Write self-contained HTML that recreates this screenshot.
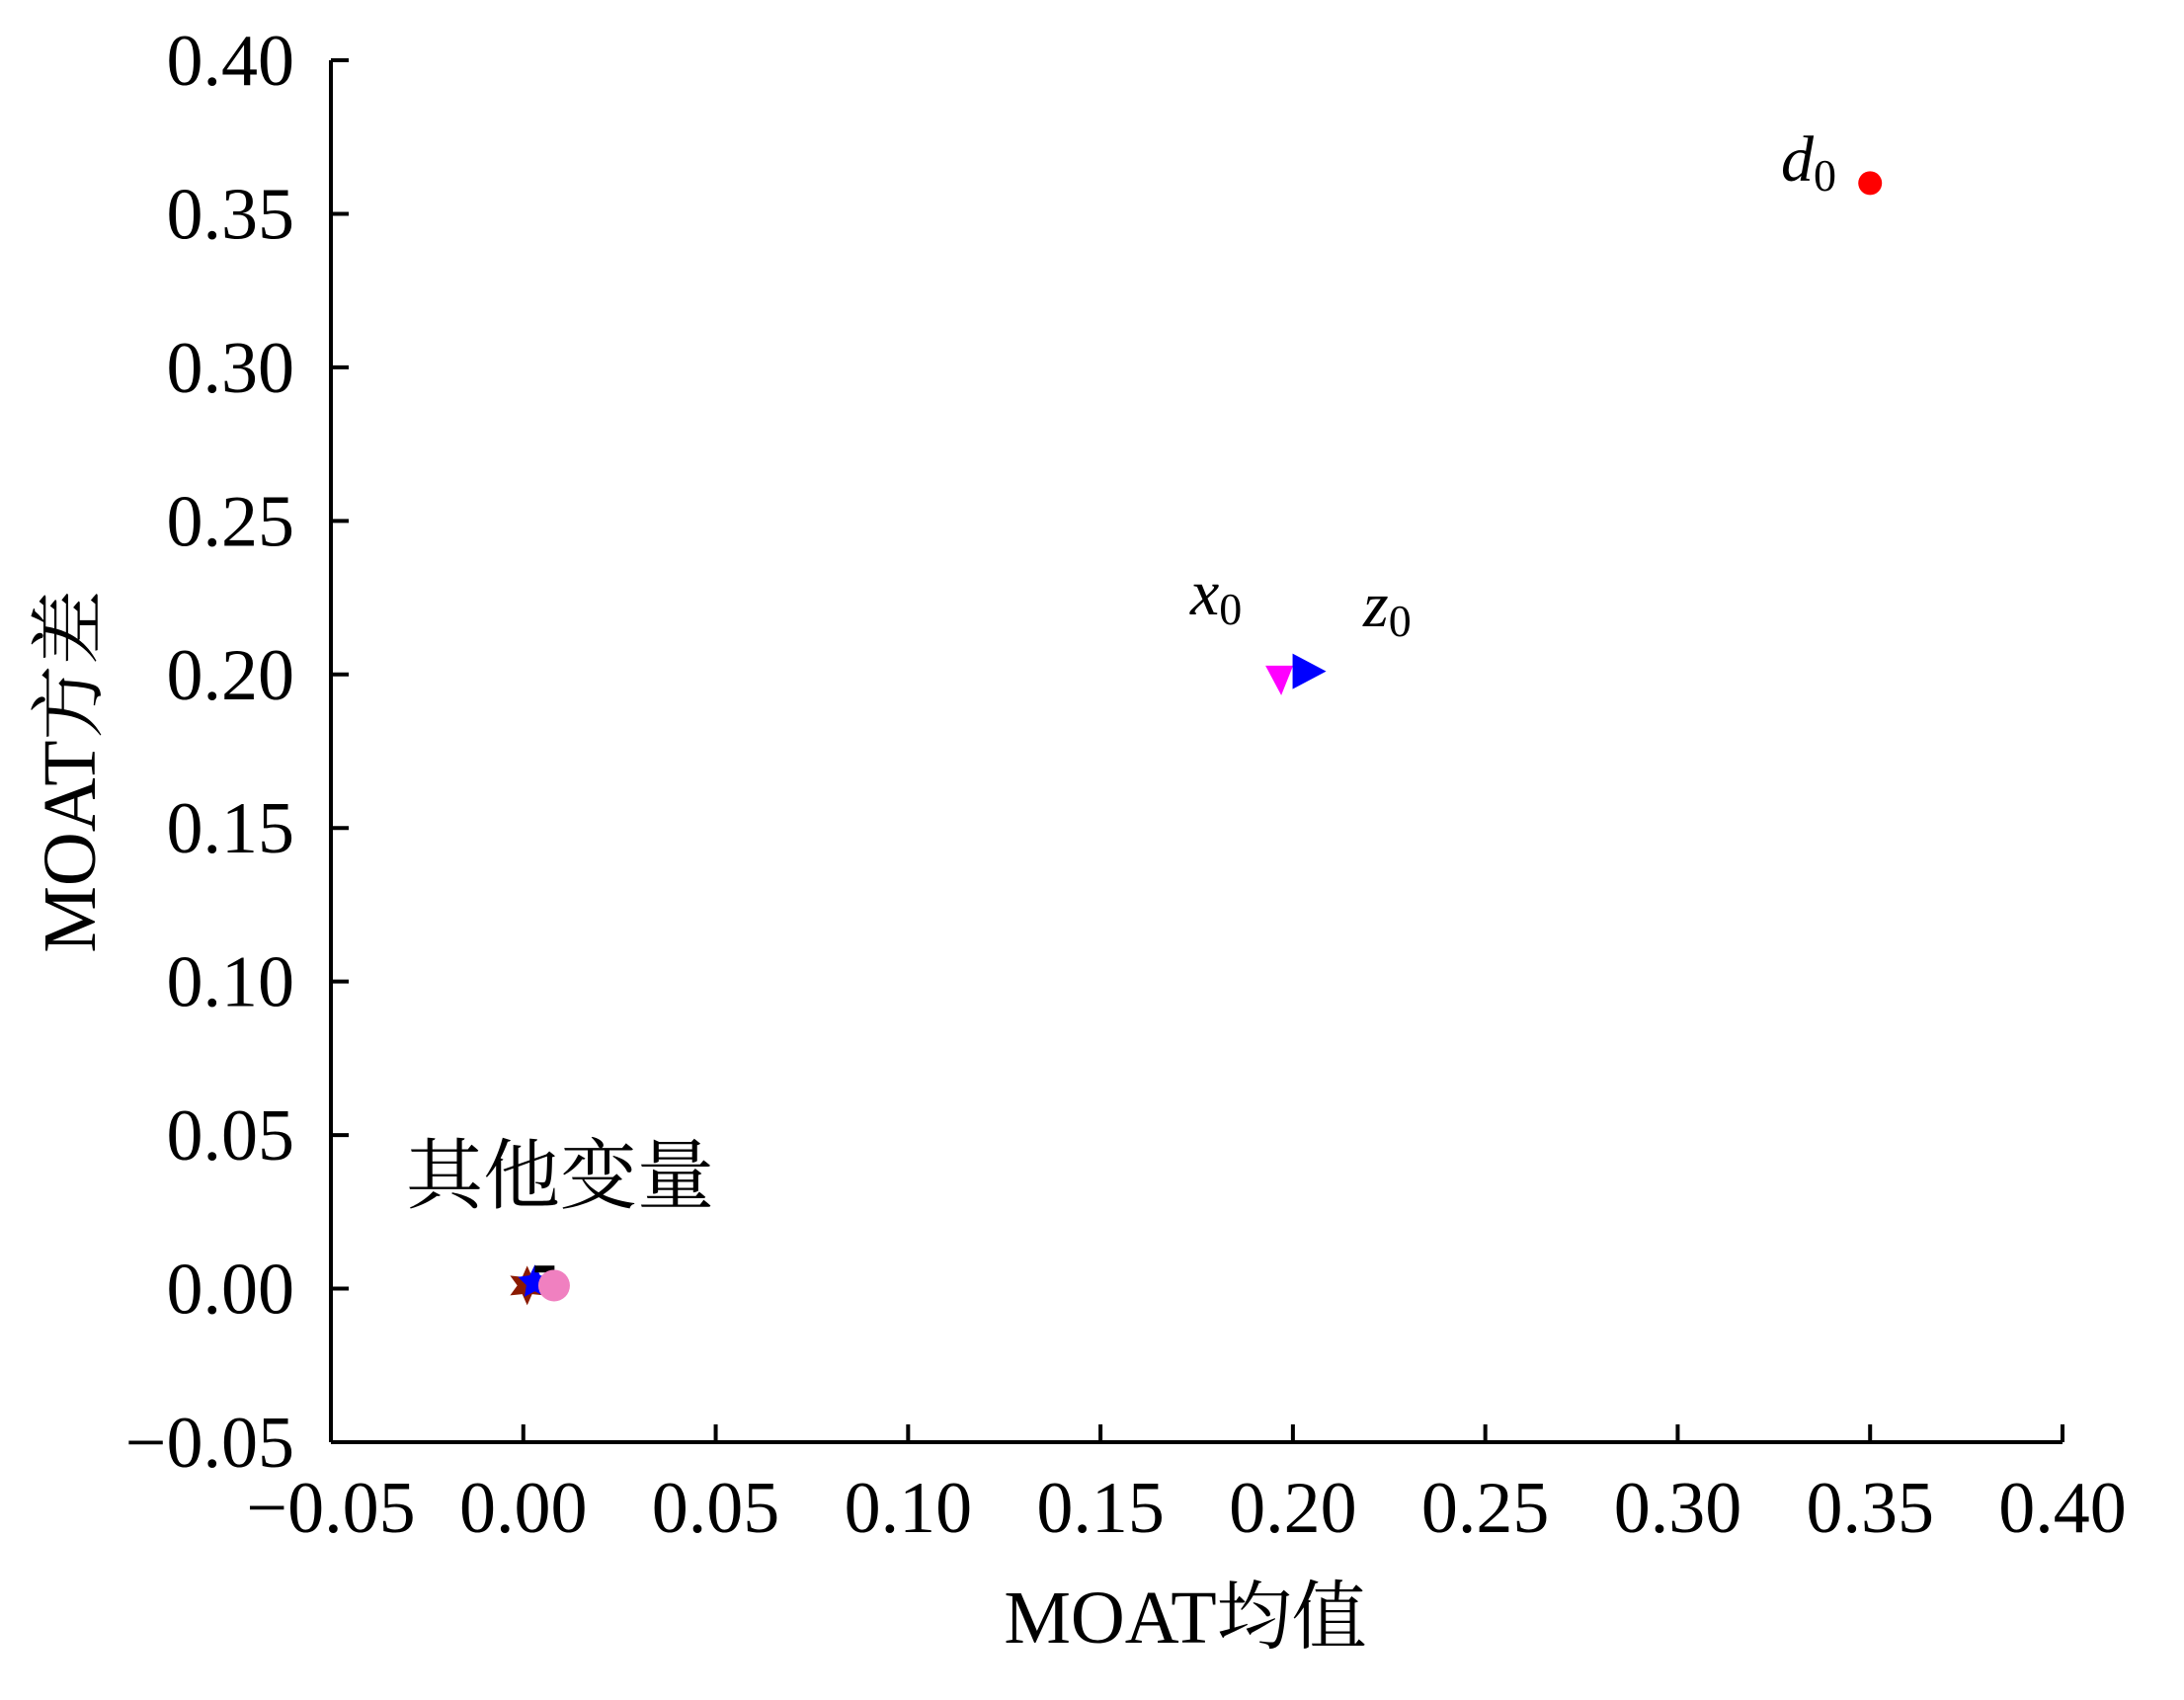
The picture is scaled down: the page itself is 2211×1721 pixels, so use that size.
<!DOCTYPE html>
<html><head><meta charset="utf-8"><style>
body{margin:0;background:#fff}
svg text{font-family:"Liberation Serif","Noto Serif CJK SC",serif;fill:#000}
</style></head><body>
<svg width="2211" height="1716" viewBox="0 0 2211 1716" xmlns="http://www.w3.org/2000/svg">
<g id="axes"></g><g id="marks"></g><g id="labels"></g>
<text x="1200" y="1663" font-size="76" text-anchor="middle">MOAT均值</text>
<text transform="translate(96,781) rotate(-90)" font-size="76" text-anchor="middle">MOAT方差</text>
<text x="411" y="1217" font-size="78">其他变量</text>
</svg>
<script>
const xTicks=[-0.05,0,0.05,0.10,0.15,0.20,0.25,0.30,0.35,0.40];
const yTicks=[-0.05,0,0.05,0.10,0.15,0.20,0.25,0.30,0.35,0.40];
const pointNames=['d0','x0','z0','other-star','other-blue','other-black','other-pink'];
const pointX=[0.35,0.198,0.203,0.001,0.003,0.004,0.008];
const pointY=[0.36,0.199,0.201,0.001,0.002,0.003,0.001];
const NS='http://www.w3.org/2000/svg';
const L=335,R=2088,T=61,B=1460;
const sx=v=>L+(v+0.05)/0.45*(R-L);
const sy=v=>B-(v+0.05)/0.45*(B-T);
function mk(tag,at,parent){const e=document.createElementNS(NS,tag);for(const k in at)e.setAttribute(k,at[k]);document.getElementById(parent).appendChild(e);return e;}
let e=mk('line',{x1:L,y1:T,x2:L,y2:B,stroke:'#000','stroke-width':4},'axes');


e=mk('line',{x1:L,y1:B,x2:R,y2:B,stroke:'#000','stroke-width':4},'axes');


const fmt=v=>(v<0?'\u2212':'')+Math.abs(v).toFixed(2);
xTicks.forEach(v=>{const x=sx(v);
 let t=mk('line',{x1:x,y1:B,x2:x,y2:B-18,stroke:'#000','stroke-width':4},'axes');
 
 
 let s=mk('text',{x:x,y:1551,'font-size':74,'text-anchor':'middle'},'axes');s.textContent=fmt(v);
 
 });
yTicks.forEach(v=>{const y=sy(v);
 let t=mk('line',{x1:L,y1:y,x2:L+18,y2:y,stroke:'#000','stroke-width':4},'axes');
 
 
 let s=mk('text',{x:298,y:y+25,'font-size':74,'text-anchor':'end'},'axes');s.textContent=fmt(v);
 
 });
function star(cx,cy,r,n){let p=[];for(let i=0;i<2*n;i++){const a=Math.PI*i/n-Math.PI/2;const rr=i%2?r*0.5:r;p.push((cx+rr*Math.cos(a)).toFixed(1)+','+(cy+rr*Math.sin(a)).toFixed(1));}return p.join(' ');}
pointNames.forEach((n,i)=>{const x=sx(pointX[i]),y=sy(pointY[i]);let m;
 if(n==='d0')m=mk('circle',{cx:x,cy:y,r:12,fill:'#f00'},'marks');
 else if(n==='x0')m=mk('polygon',{points:`${x-20},${y-12} ${x+8},${y-12} ${x-4},${y+18}`,fill:'#f0f'},'marks');
 else if(n==='z0')m=mk('polygon',{points:`${x-12},${y-18} ${x+22},${y} ${x-12},${y+18}`,fill:'#00f'},'marks');
 else if(n==='other-star')m=mk('polygon',{points:star(x,y,20,6),fill:'#8b1a00'},'marks');
 else if(n==='other-blue')m=mk('polygon',{points:star(x,y,18,5),fill:'#00f'},'marks');
 else if(n==='other-black')m=mk('rect',{x:x-4,y:y-14,width:20,height:7,fill:'#000'},'marks');
 else m=mk('circle',{cx:x,cy:y,r:16,fill:'#f080c0'},'marks');
 
 });
function lab(txt,x,y,name){const t=mk('text',{x:x,y:y,'font-size':66},'labels');
 const a=document.createElementNS(NS,'tspan');a.setAttribute('font-style','italic');a.textContent=txt;t.appendChild(a);
 const b=document.createElementNS(NS,'tspan');b.setAttribute('font-size','46');b.setAttribute('dy','10');b.textContent='0';t.appendChild(b);
 
 }
lab('d',1803,183,'d0-label');lab('x',1205,622,'x0-label');lab('z',1380,634,'z0-label');
</script>
</body></html>
